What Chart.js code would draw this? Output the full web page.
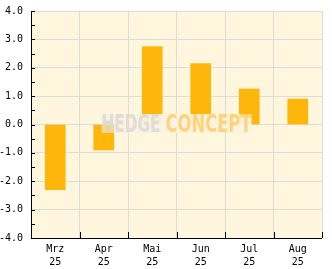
<!DOCTYPE html>
<html>
<head>
<meta charset="utf-8">
<script src="https://cdn.jsdelivr.net/npm/chart.js@4/dist/chart.umd.min.js"></script>
<style>
html,body{margin:0;padding:0;background:#fff;}
canvas{display:block;}
</style>
</head>
<body>
<canvas id="c" width="332" height="269"></canvas>
<script>
const months = ["Mrz", "Apr", "Mai", "Jun", "Jul", "Aug"];
const years = ["25", "25", "25", "25", "25", "25"];
const values = [-2.3, -0.9, 2.75, 2.15, 1.25, 0.9];
const yMin = -4, yMax = 4, yStep = 0.5;

const labels = months.map((m, i) => [m, years[i]]);
const MONO = "'DejaVu Sans Mono', 'Liberation Mono', monospace";

const bgPlugin = {
  id: 'bg',
  beforeDraw(chart) {
    const a = chart.chartArea, ctx = chart.ctx;
    ctx.save();
    ctx.fillStyle = 'rgb(255,246,222)';
    ctx.fillRect(a.left, a.top, a.right - a.left, a.bottom - a.top);
    ctx.restore();
  }
};

const watermarkPlugin = {
  id: 'wm',
  afterDatasetsDraw(chart) {
    const a = chart.chartArea, ctx = chart.ctx;
    const cx = (a.left + a.right) / 2;
    const cy = (a.top + a.bottom) / 2 - 1;
    const w1 = 59, w2 = 86, gap = 5, h = 19;
    const total = w1 + gap + w2;
    const x0 = cx - total / 2;
    const y0 = cy - h / 2;
    ctx.save();
    ctx.fillStyle = 'rgba(240,236,226,0.55)';
    ctx.fillRect(x0, y0, 13, h);
    ctx.fillStyle = 'rgba(250,243,226,0.96)';
    ctx.fillRect(x0 + 13, y0, total - 13, h);
    ctx.font = "bold 24px 'DejaVu Sans Condensed', 'Liberation Sans Narrow', 'DejaVu Sans', sans-serif";
    ctx.textBaseline = 'alphabetic';
    const drawWord = (txt, x, wTarget, color) => {
      const mw = ctx.measureText(txt).width;
      ctx.save();
      ctx.translate(x, y0 + h - 1);
      ctx.scale(wTarget / mw, 1.0);
      ctx.fillStyle = color;
      ctx.fillText(txt, 0, 0);
      ctx.restore();
    };
    drawWord('HEDGE', x0, w1, 'rgba(218,216,210,0.85)');
    drawWord('CONCEPT', x0 + w1 + gap, w2, 'rgba(255,208,110,0.9)');
    ctx.restore();
  }
};

const ticksPlugin = {
  id: 'inticks',
  afterDraw(chart) {
    const a = chart.chartArea, ctx = chart.ctx;
    const ys = chart.scales.y, xs = chart.scales.x;
    ctx.save();
    ctx.strokeStyle = '#000';
    ctx.lineWidth = 1;
    ctx.beginPath();
    for (let v = yMin; v <= yMax + 1e-9; v += yStep) {
      const p = Math.round(ys.getPixelForValue(v)) + 0.5;
      ctx.moveTo(a.left, p);
      ctx.lineTo(a.left + 4, p);
    }
    const n = months.length;
    for (let i = 1; i <= n; i++) {
      const p0 = xs.getPixelForValue(i - 1);
      const half = (xs.getPixelForValue(1) - xs.getPixelForValue(0)) / 2;
      const p = Math.round(p0 + half) + 0.5;
      ctx.moveTo(p, a.bottom);
      ctx.lineTo(p, a.bottom - 6);
    }
    ctx.stroke();
    ctx.beginPath();
    ctx.moveTo(Math.round(a.left) + 0.5, a.top);
    ctx.lineTo(Math.round(a.left) + 0.5, a.bottom + 0.5);
    ctx.lineTo(a.right, Math.round(a.bottom) + 0.5);
    ctx.stroke();
    ctx.restore();
  }
};

new Chart(document.getElementById('c'), {
  type: 'bar',
  data: {
    labels: labels,
    datasets: [{
      data: values,
      backgroundColor: 'rgb(255,182,10)',
      borderWidth: 0,
      barThickness: 20
    }]
  },
  options: {
    responsive: false,
    devicePixelRatio: 1,
    animation: false,
    events: [],
    layout: { padding: { left: 0, right: 10, top: 11, bottom: 0 } },
    plugins: { legend: { display: false }, tooltip: { enabled: false } },
    scales: {
      x: {
        offset: true,
        grid: { offset: true, color: '#dcdcdc', drawTicks: false },
        border: { display: false },
        ticks: {
          font: { family: MONO, size: 10, lineHeight: 1.3 },
          color: '#000',
          padding: 5,
          maxRotation: 0,
          autoSkip: false
        },
        afterFit(s) { s.height = 31; s.paddingLeft = 0; s.paddingRight = 0; }
      },
      y: {
        min: yMin,
        max: yMax,
        grid: {
          color: (c) => (c.tick && Number.isInteger(c.tick.value)) ? '#dcdcdc' : 'rgba(0,0,0,0)',
          drawTicks: false
        },
        border: { display: false },
        ticks: {
          stepSize: yStep,
          autoSkip: false,
          font: { family: MONO, size: 10 },
          color: '#000',
          padding: 8,
          callback: (v) => Number.isInteger(v) ? v.toFixed(1) : ''
        },
        afterFit(s) { s.width = 31; s.paddingTop = 0; s.paddingBottom = 0; }
      }
    }
  },
  plugins: [bgPlugin, watermarkPlugin, ticksPlugin]
});
</script>
</body>
</html>
